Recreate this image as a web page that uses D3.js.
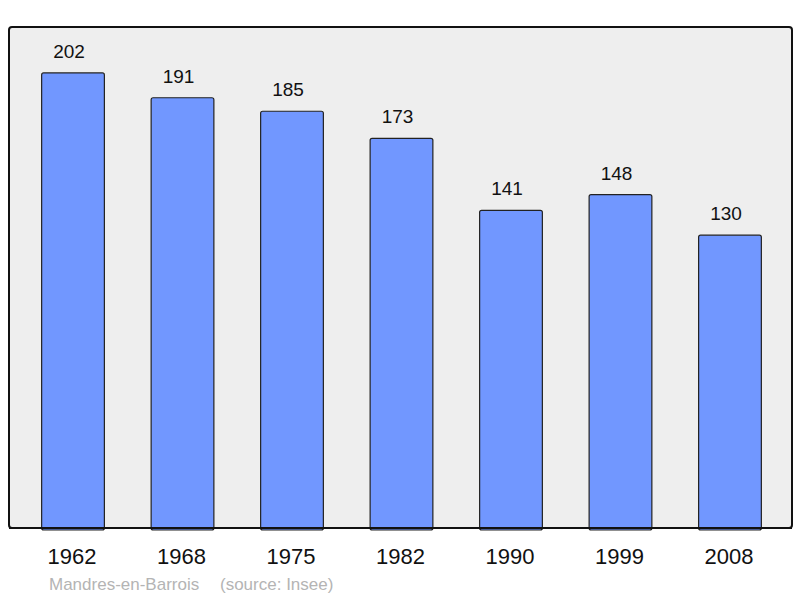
<!DOCTYPE html>
<html>
<head>
<meta charset="utf-8">
<script src="https://cdn.jsdelivr.net/npm/d3@7"></script>
<style>
  body { margin: 0; background: #fff; }
  svg { display: block; font-family: "Liberation Sans", Arial, sans-serif; }
</style>
</head>
<body>
<svg id="chart" width="800" height="598"></svg>
<script>
var years = ['1962', '1968', '1975', '1982', '1990', '1999', '2008'];
var population = [202, 191, 185, 173, 141, 148, 130];

var svg = d3.select('#chart');

var plotLeft = 9, plotRight = 792, plotTop = 27, plotBottom = 528;

var x = d3.scaleBand()
  .domain(years)
  .range([plotLeft + 1, plotRight + 1])
  .paddingInner(0.427)
  .paddingOuter(0.289);

var y = d3.scaleLinear()
  .domain([0, 222.4])
  .range([plotBottom, plotTop]);

// plot frame
svg.append('rect')
  .attr('x', plotLeft)
  .attr('y', plotTop)
  .attr('width', plotRight - plotLeft)
  .attr('height', plotBottom - plotTop)
  .attr('rx', 3)
  .attr('fill', '#eeeeee')
  .attr('stroke', '#111')
  .attr('stroke-width', 2);

var data = years.map(function(yr, i) {
  return { year: yr, value: population[i] };
});

svg.append('g')
  .selectAll('rect')
  .data(data)
  .enter()
  .append('rect')
  .attr('x', function(d) { return x(d.year); })
  .attr('y', function(d) { return y(d.value); })
  .attr('width', x.bandwidth())
  .attr('height', function(d) { return plotBottom - y(d.value) + 2; })
  .attr('rx', 2)
  .attr('fill', '#7197ff')
  .attr('stroke', '#222')
  .attr('stroke-width', 1.2);

// redraw bottom edge of frame over bars
svg.append('line')
  .attr('x1', plotLeft).attr('x2', plotRight)
  .attr('y1', plotBottom).attr('y2', plotBottom)
  .attr('stroke', '#111')
  .attr('stroke-width', 2);

// value labels (sit a little left of bar centre, as in the original)
svg.append('g')
  .selectAll('text')
  .data(data)
  .enter()
  .append('text')
  .attr('x', function(d) { return x(d.year) + x.bandwidth() / 2 - 4; })
  .attr('y', function(d) { return y(d.value) - 15; })
  .attr('text-anchor', 'middle')
  .attr('font-size', 19)
  .attr('fill', '#111')
  .text(function(d) { return d.value; });

// year labels
var xAxis = d3.axisBottom(x).tickSize(0).tickPadding(0);
var ax = svg.append('g')
  .attr('transform', 'translate(-1,' + plotBottom + ')')
  .call(xAxis);
ax.select('.domain').remove();
ax.selectAll('text')
  .attr('dy', null)
  .attr('y', 36)
  .attr('font-size', 22)
  .attr('font-family', '"Liberation Sans", Arial, sans-serif')
  .attr('fill', '#111');

// footer
svg.append('text')
  .attr('x', 49)
  .attr('y', 590)
  .attr('font-size', 17)
  .attr('fill', '#b4b4b4')
  .text('Mandres-en-Barrois');
svg.append('text')
  .attr('x', 220)
  .attr('y', 590)
  .attr('font-size', 17)
  .attr('fill', '#b4b4b4')
  .text('(source: Insee)');
</script>
</body>
</html>
